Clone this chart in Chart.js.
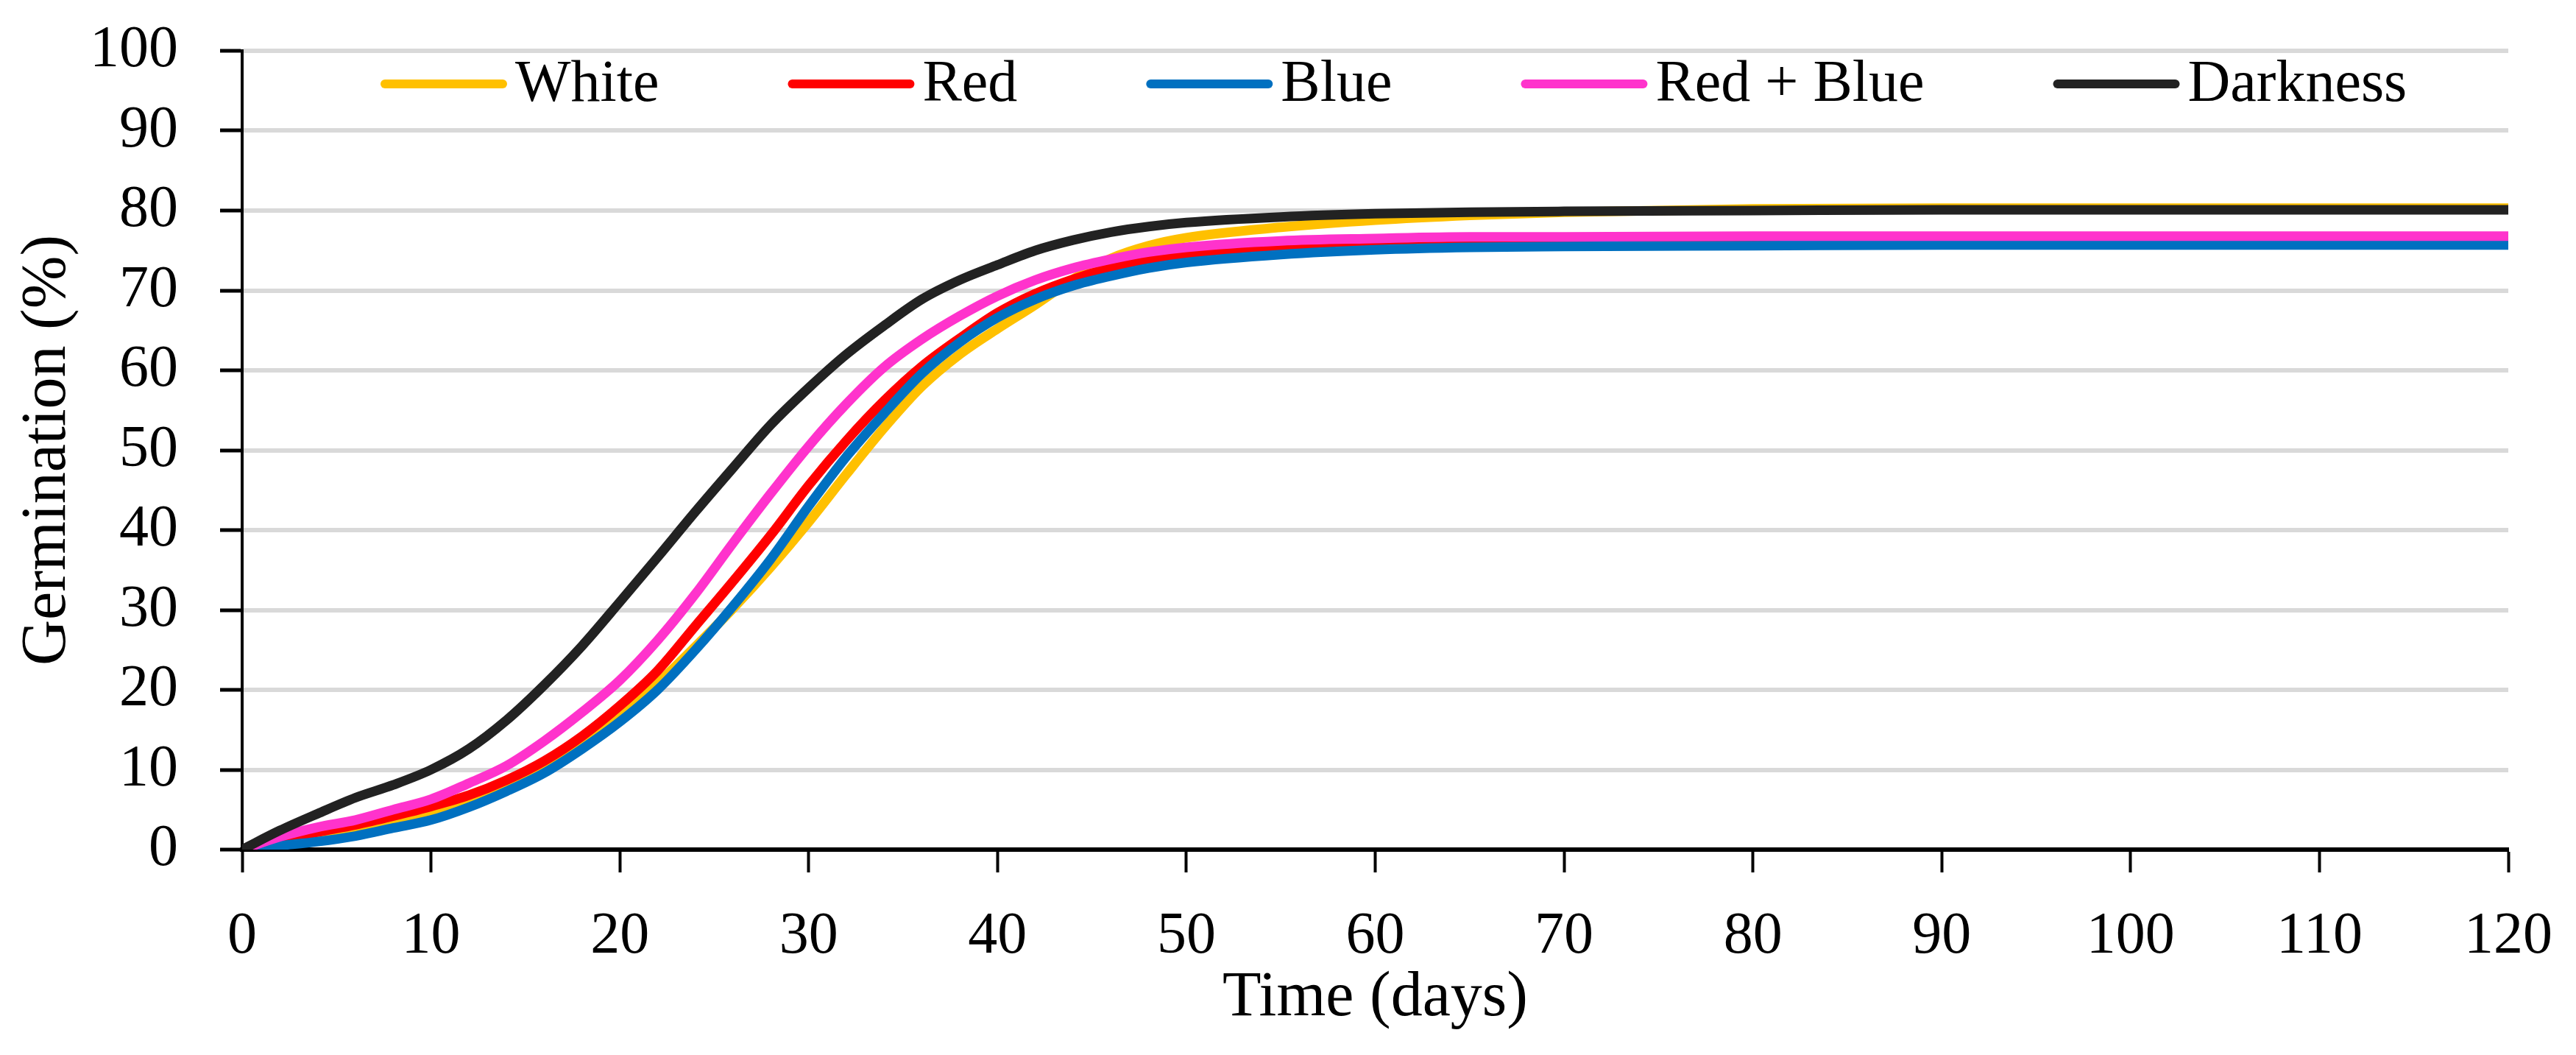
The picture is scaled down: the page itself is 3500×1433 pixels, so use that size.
<!DOCTYPE html>
<html>
<head>
<meta charset="utf-8">
<script src="https://cdn.jsdelivr.net/npm/chart.js@4.4.1/dist/chart.umd.min.js"></script>
<style>
  html, body { margin: 0; padding: 0; background: #fff; }
</style>
</head>
<body>
<canvas id="myChart" width="3500" height="1433"></canvas>
<script>
// days on the x axis
const days = [0, 2, 4, 6, 8, 10, 12, 14, 16, 18, 20, 22, 24, 26, 28, 30, 32, 34, 36, 38, 40,
  42, 44, 46, 48, 50, 55, 60, 65, 70, 80, 90, 100, 110, 120];

// germination (%)
const white = [0, 0.8, 1.6, 2.4, 3.4, 4.5, 6.0, 8.0, 10.4, 13.4, 16.8, 20.8, 25.4, 30.2, 35.4, 41.0, 47.0, 52.8, 58.0, 62.0, 65.2,
  68.2, 71.4, 74.0, 75.6, 76.6, 77.9, 78.8, 79.4, 79.8, 80.2, 80.3, 80.3, 80.3, 80.3];
const red = [0, 1.2, 2.2, 3.1, 4.2, 5.4, 6.8, 8.7, 11.1, 14.2, 18.0, 22.4, 28.0, 33.6, 39.4, 45.6, 51.2, 56.2, 60.5, 64.0, 67.2,
  69.6, 71.4, 72.8, 73.8, 74.5, 75.4, 75.9, 76.1, 76.2, 76.3, 76.3, 76.3, 76.3, 76.3];
const blue = [0, 0.5, 1.0, 1.7, 2.7, 3.7, 5.3, 7.3, 9.6, 12.6, 16.0, 20.0, 25.0, 30.5, 36.4, 43.0, 49.2, 54.6, 59.6, 63.5, 66.6,
  68.9, 70.6, 71.8, 72.8, 73.5, 74.5, 75.1, 75.4, 75.5, 75.6, 75.7, 75.7, 75.7, 75.7];
const redBlue = [0, 1.6, 2.8, 3.7, 5.0, 6.3, 8.3, 10.5, 13.6, 17.2, 21.2, 26.2, 32.0, 38.4, 44.6, 50.5, 55.8, 60.4, 63.9, 66.8, 69.3,
  71.3, 72.8, 73.9, 74.8, 75.4, 76.2, 76.5, 76.7, 76.7, 76.8, 76.8, 76.8, 76.8, 76.8];
const darkness = [0, 2.4, 4.5, 6.5, 8.1, 10.0, 12.6, 16.2, 20.6, 25.5, 31.0, 36.6, 42.3, 47.8, 53.2, 57.8, 62.0, 65.6, 68.9, 71.3, 73.2,
  75.0, 76.3, 77.3, 78.0, 78.5, 79.2, 79.6, 79.8, 79.9, 80.0, 80.1, 80.1, 80.1, 80.1];

const seriesNames = ['White', 'Red', 'Blue', 'Red + Blue', 'Darkness'];
const seriesValues = [white, red, blue, redBlue, darkness];
const seriesColors = ['#FFC000', '#FF0000', '#0070C0', '#FF33CC', '#222222'];

Chart.defaults.font.family = '"Liberation Serif", "Times New Roman", serif';
Chart.defaults.color = '#000';

// legend sits inside the plot, under the 100 gridline
const insideLegend = {
  id: 'insideLegend',
  afterDraw(chart) {
    const ctx = chart.ctx;
    const area = chart.chartArea;
    ctx.save();
    ctx.font = '80px "Liberation Serif", "Times New Roman", serif';
    ctx.textBaseline = 'alphabetic';
    ctx.lineCap = 'round';
    let x = area.left + 188;
    const yLine = area.top + 45;
    const yText = area.top + 68;
    chart.data.datasets.forEach(ds => {
      ctx.strokeStyle = ds.borderColor;
      ctx.lineWidth = 12;
      ctx.beginPath();
      ctx.moveTo(x + 6, yLine);
      ctx.lineTo(x + 166, yLine);
      ctx.stroke();
      ctx.fillStyle = '#000';
      ctx.fillText(ds.label, x + 183, yText);
      x += 183 + ctx.measureText(ds.label).width + 175;
    });
    ctx.restore();
  }
};

new Chart(document.getElementById('myChart'), {
  type: 'line',
  data: {
    datasets: seriesNames.map((name, i) => ({
      label: name,
      data: days.map((d, j) => ({x: d, y: seriesValues[i][j]})),
      borderColor: seriesColors[i],
      backgroundColor: seriesColors[i],
      borderWidth: 13,
      pointRadius: 0,
      cubicInterpolationMode: 'monotone',
      borderCapStyle: 'round',
      borderJoinStyle: 'round',
      fill: false,
      order: seriesNames.length - i // later series on top, like the original
    }))
  },
  options: {
    responsive: false,
    animation: false,
    devicePixelRatio: 1,
    layout: {padding: {top: 69, right: 92, bottom: 0, left: 0}},
    plugins: {legend: {display: false}, tooltip: {enabled: false}},
    scales: {
      x: {
        type: 'linear',
        min: 0,
        max: 120,
        ticks: {stepSize: 10, font: {size: 80}, padding: 40, maxRotation: 0},
        grid: {drawOnChartArea: false, drawTicks: true, tickLength: 31, tickWidth: 4, tickColor: '#000'},
        border: {color: '#000', width: 6},
        title: {display: true, text: 'Time (days)', font: {size: 86}, padding: {top: 25, bottom: 25}},
        afterFit(s) { s.height = 279; s.paddingLeft = 0; s.paddingRight = 0; }
      },
      y: {
        min: 0,
        max: 100,
        ticks: {stepSize: 10, font: {size: 80}, padding: 57},
        grid: {color: '#d9d9d9', lineWidth: 6, drawTicks: true, tickLength: 30, tickWidth: 5, tickColor: '#000'},
        border: {color: '#000', width: 4},
        title: {display: true, text: 'Germination (%)', font: {size: 86}, padding: {top: 14, bottom: 14}},
        afterFit(s) { s.width = 329; s.paddingTop = 0; s.paddingBottom = 0; }
      }
    }
  },
  plugins: [insideLegend]
});
</script>
</body>
</html>
